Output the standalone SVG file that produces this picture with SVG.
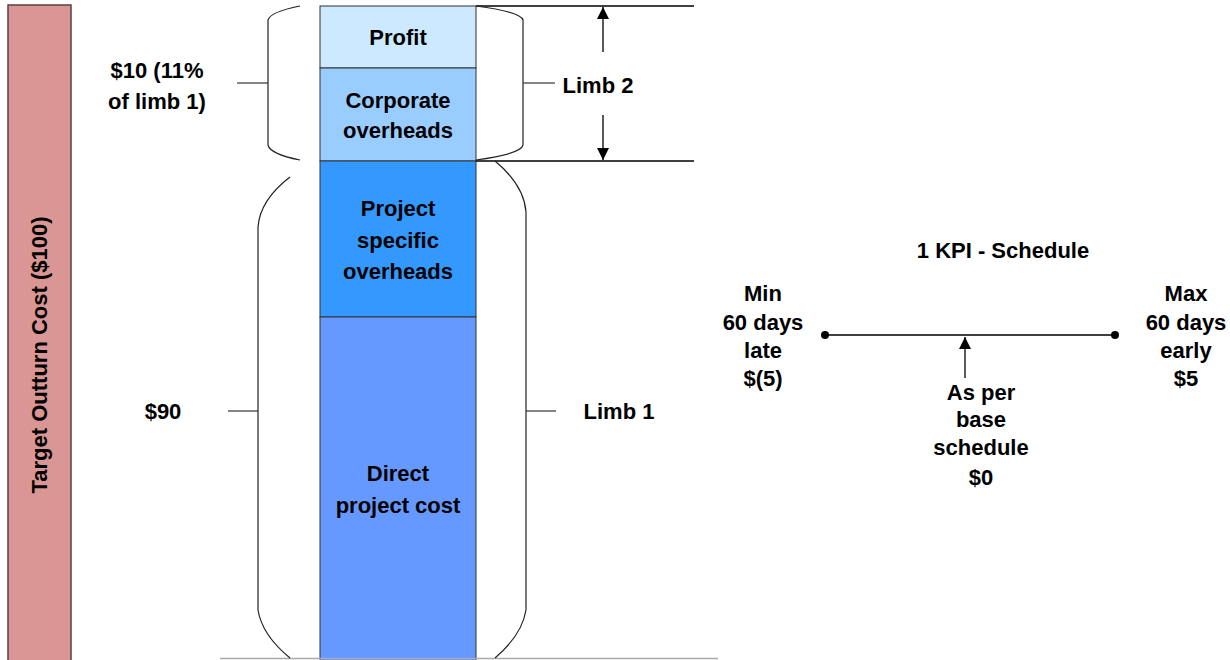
<svg xmlns="http://www.w3.org/2000/svg" width="1230" height="660" viewBox="0 0 1230 660">
<style>
text{font-family:"Liberation Sans",Arial,sans-serif;font-weight:bold;font-size:22px;fill:#000;text-anchor:middle}
.ln{stroke:#000;stroke-width:1.3;fill:none}
.br{stroke:#222;stroke-width:1.2;fill:none}
.seg{stroke:#333;stroke-width:1.2}
</style>
<defs>
<marker id="ah" viewBox="0 0 10 10" refX="10" refY="5" markerWidth="13" markerHeight="12" markerUnits="userSpaceOnUse" orient="auto">
<path d="M0,0 L10,5 L0,10 z" fill="#000"/>
</marker>
</defs>
<rect width="1230" height="660" fill="#fff"/>
<g id="target-bar">
<rect x="8" y="5" width="63" height="660" fill="#D99694" stroke="#5a4040" stroke-width="1.5"/>
<text transform="translate(47,355) rotate(-90)">Target Outturn Cost ($100)</text>
</g>
<g id="profit">
<rect x="320" y="6" width="156" height="62" fill="#CCE9FF" stroke="#333" stroke-width="1"/>
<text x="398" y="45">Profit</text>
</g>
<g id="corporate">
<rect x="320" y="68" width="156" height="93" fill="#99CCFF" stroke="#333" stroke-width="1"/>
<text x="398" y="108">Corporate</text>
<text x="398" y="138">overheads</text>
</g>
<g id="project-specific">
<rect x="320" y="161" width="156" height="156" fill="#3399FF" stroke="#333" stroke-width="1"/>
<text x="398" y="216">Project</text>
<text x="398" y="248">specific</text>
<text x="398" y="279">overheads</text>
</g>
<g id="direct">
<rect x="320" y="317" width="156" height="345" fill="#6699FF" stroke="#333" stroke-width="1"/>
<text x="398" y="481">Direct</text>
<text x="398" y="513">project cost</text>
</g>
<g id="labels">
<text x="157" y="78">$10 (11%</text>
<text x="157" y="109">of limb 1)</text>
<text x="163" y="419">$90</text>
<text x="598" y="93">Limb 2</text>
<text x="619" y="419">Limb 1</text>
</g>
<g id="connectors">
<line x1="220" y1="658.5" x2="718" y2="658.5" stroke="#aaa" stroke-width="1.5"/>
<line x1="476" y1="6" x2="694" y2="6" class="ln"/>
<line x1="476" y1="161" x2="694" y2="161" class="ln"/>
<line x1="603" y1="52" x2="603" y2="7" class="ln" marker-end="url(#ah)"/>
<line x1="603" y1="115" x2="603" y2="160" class="ln" marker-end="url(#ah)"/>
<path class="br" d="M300,6 Q270,12 268,20 L268,145 Q270,154 300,160"/>
<line x1="237" y1="83" x2="268" y2="83" class="seg"/>
<path class="br" d="M476,6 Q521,12 523,20 L523,145 Q521,154 476,160"/>
<line x1="523" y1="83" x2="555" y2="83" class="seg"/>
<path class="br" d="M290,177 Q260,200 258,227 L258,610 Q262,635 290,658"/>
<line x1="228" y1="411" x2="258" y2="411" class="seg"/>
<path class="br" d="M495,161 Q524,185 526,212 L526,610 Q522,635 495,658"/>
<line x1="526" y1="411" x2="556" y2="411" class="seg"/>
</g>
<g id="kpi">
<text x="1003" y="258">1 KPI - Schedule</text>
<line x1="825" y1="335" x2="1115" y2="335" class="ln"/>
<circle cx="825" cy="335" r="4" fill="#000"/>
<circle cx="1115" cy="335" r="4" fill="#000"/>
<line x1="965" y1="378" x2="965" y2="337" class="ln" marker-end="url(#ah)"/>
</g>
<g id="kpi-min">
<text x="763" y="301">Min</text>
<text x="763" y="330">60 days</text>
<text x="763" y="358">late</text>
<text x="763" y="386">$(5)</text>
</g>
<g id="kpi-max">
<text x="1186" y="301">Max</text>
<text x="1186" y="330">60 days</text>
<text x="1186" y="358">early</text>
<text x="1186" y="386">$5</text>
</g>
<g id="kpi-base">
<text x="981" y="400">As per</text>
<text x="981" y="427">base</text>
<text x="981" y="455">schedule</text>
<text x="981" y="485">$0</text>
</g>
</svg>
